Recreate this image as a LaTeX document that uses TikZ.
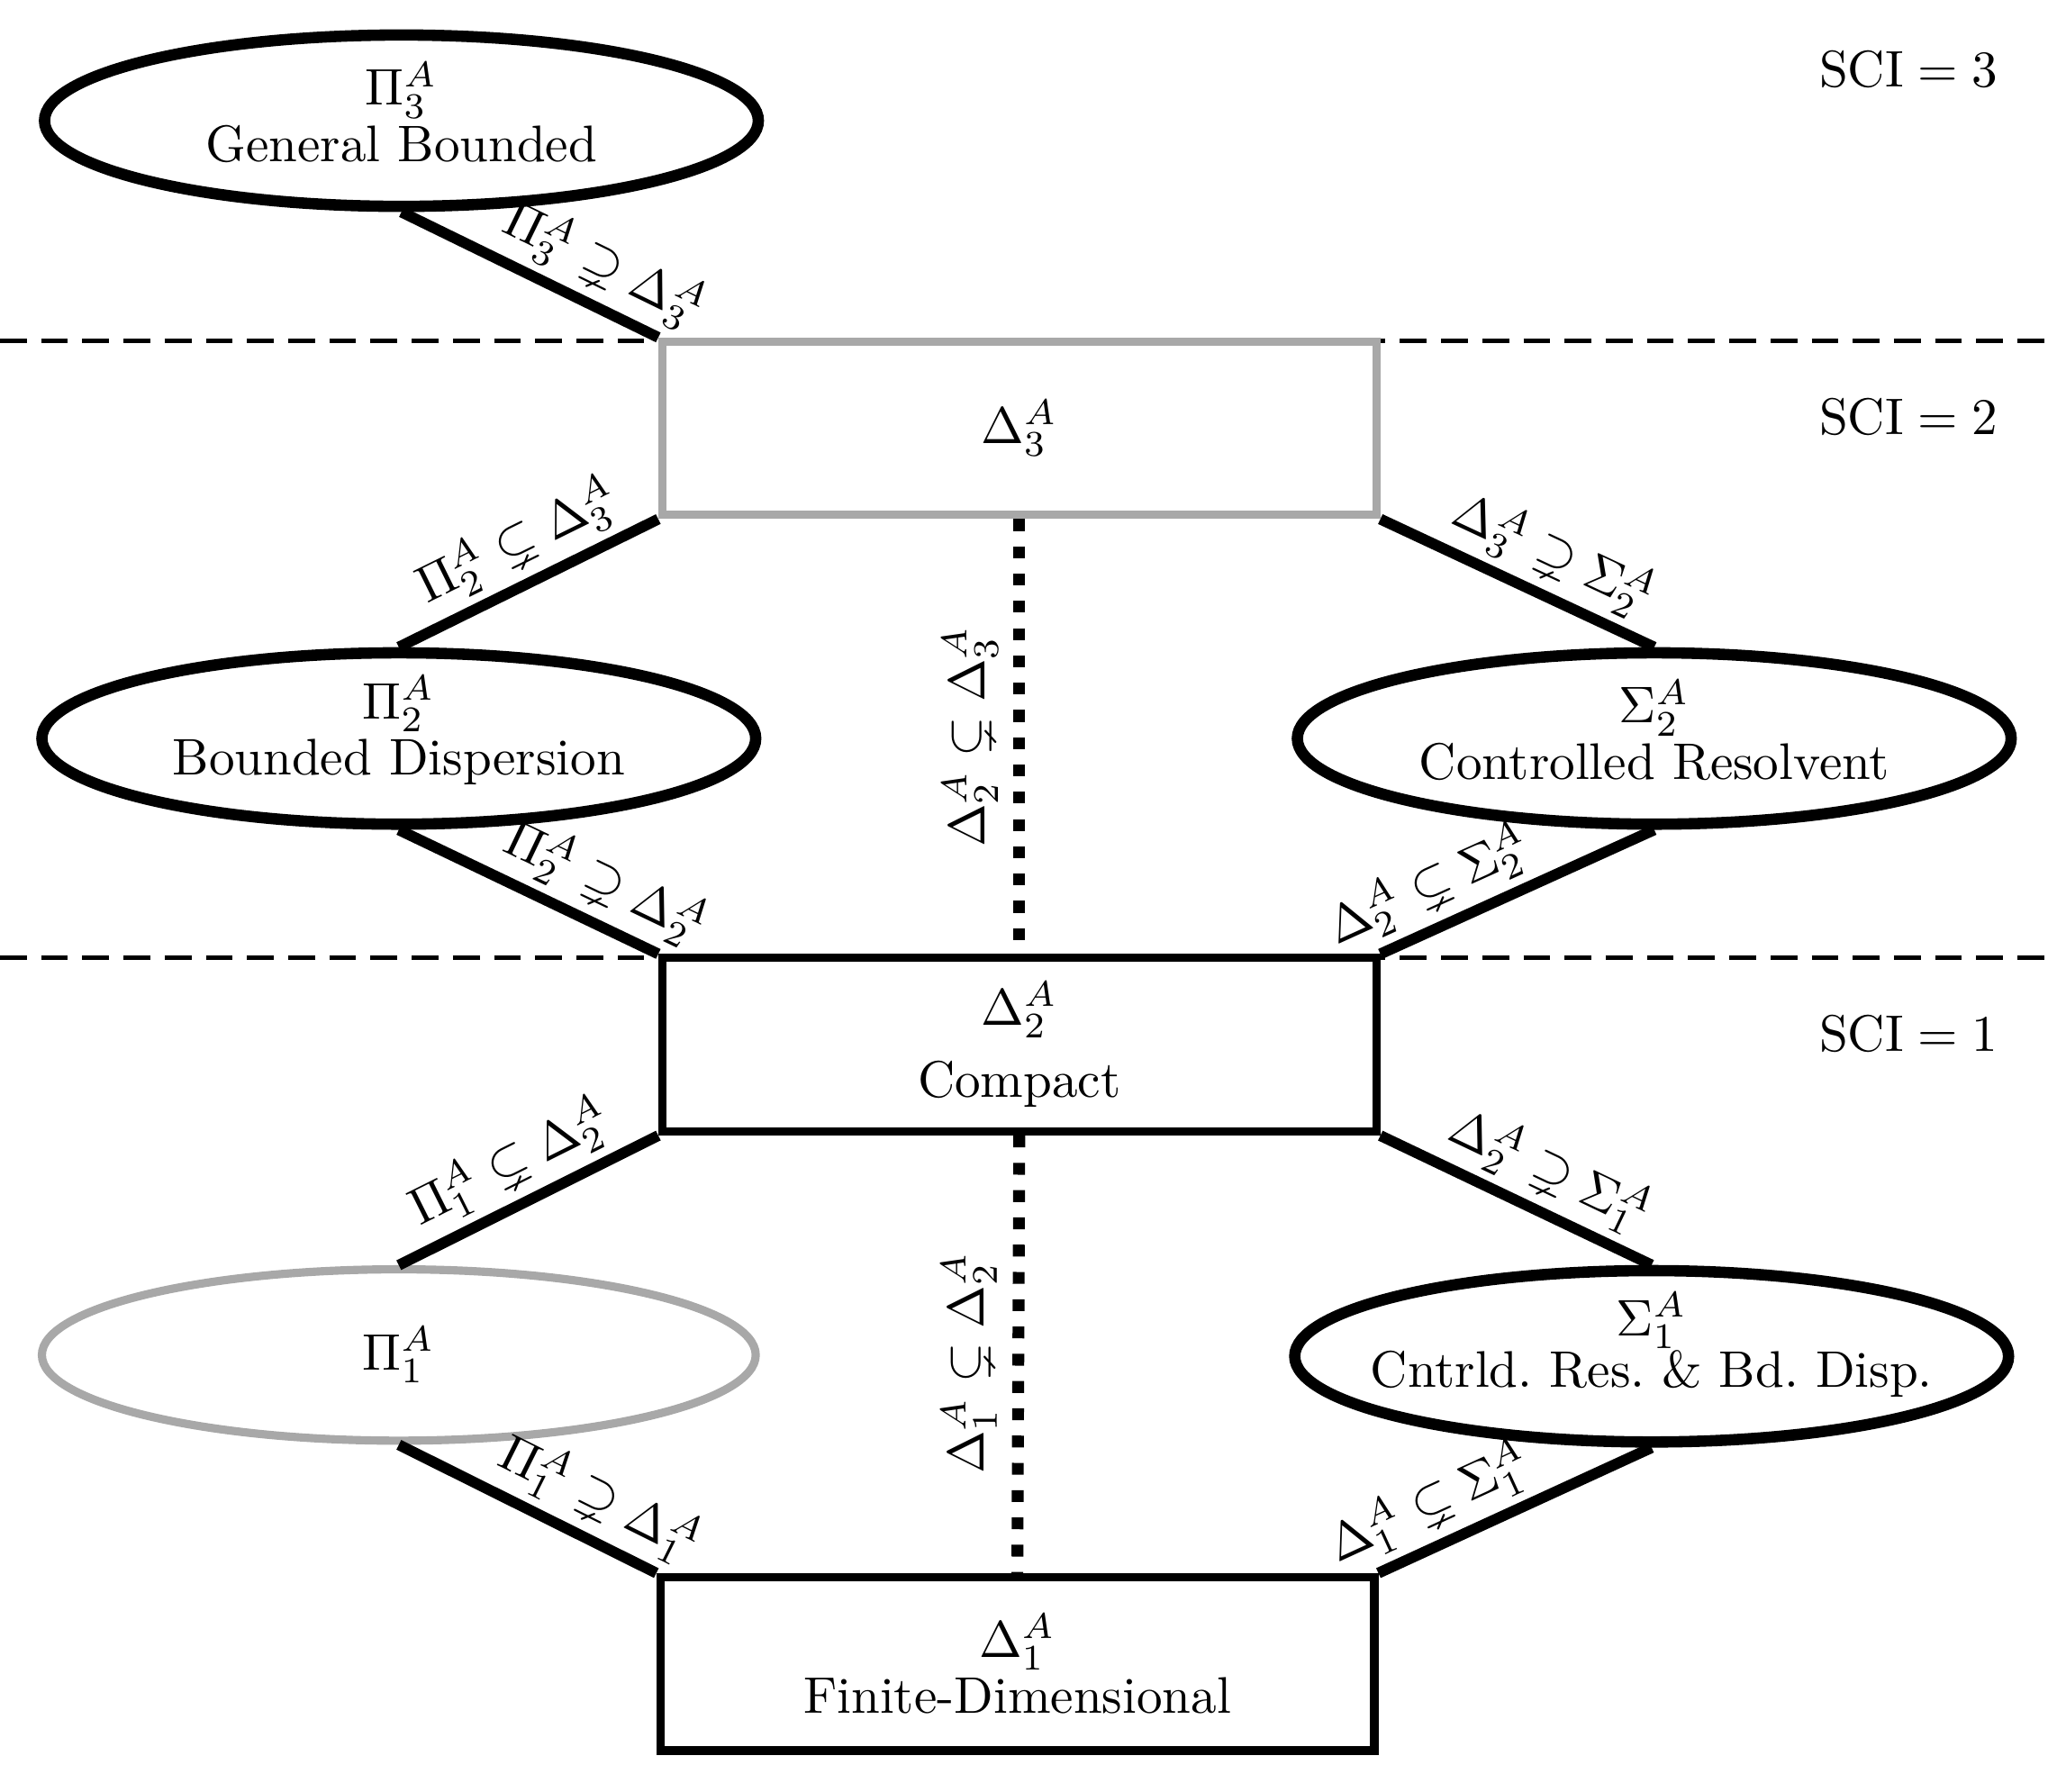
\documentclass[tikz,border=0pt]{standalone}
\usepackage{amsmath,amssymb}
\usetikzlibrary{shapes.geometric}
\definecolor{lgray}{RGB}{168,168,168}
\frenchspacing
\begin{document}
\begin{tikzpicture}[x=0.2549pt,y=-0.2549pt,
  ell/.style={ellipse, draw, line width=2.2pt, minimum width=138.7pt, minimum height=33.3pt, inner sep=0pt},
  etxt/.style={align=center, inner sep=0pt, yshift=1.6pt},
  boxn/.style={rectangle, draw, line width=1.6pt, minimum width=138.7pt, minimum height=33.7pt, inner sep=0pt, align=center},
  conn/.style={line width=2.1pt},
  sepline/.style={line width=0.9pt, dash pattern=on 5.2pt off 2.8pt},
  dotline/.style={line width=2.3pt, dash pattern=on 2.3pt off 3pt},
  lab/.style={sloped, above, inner sep=1.5pt},
  vlab/.style={rotate=90, anchor=south, inner sep=3pt},
  sci/.style={inner sep=0pt}]
\useasboundingbox (0,0) rectangle (1568,1366);
% separating dashed lines
\coordinate (s1a) at (0,260);
\coordinate (s1b) at (1568,260);
\coordinate (s2a) at (0,730);
\coordinate (s2b) at (1568,730);
\draw[sepline] (s1a) -- (s1b);
\draw[sepline] (s2a) -- (s2b);
% nodes
\node[ell, label={[etxt]center:{$\Pi_3^A$\\[-1pt]General Bounded}}] (pi3) at (306,92) {};
\node[boxn, draw=lgray] (d3) at (777,326.5) {$\Delta_3^A$};
\node[ell, label={[etxt]center:{$\Pi_2^A$\\[-1pt]Bounded Dispersion}}] (pi2) at (304,563) {};
\node[ell, label={[etxt]center:{$\Sigma_2^A$\\[-1pt]Controlled Resolvent}}] (s2) at (1261,563) {};
\node[boxn] (d2) at (777,796.5) {$\Delta_2^A$\\[2pt]Compact};
\node[ell, draw=lgray, line width=1.6pt, label={[etxt,yshift=-1.6pt]center:{$\Pi_1^A$}}] (pi1) at (304,1033) {};
\node[ell, label={[etxt,yshift=0.6pt]center:{$\Sigma_1^A$\\[-2pt]Cntrld. Res. \& Bd. Disp.}}] (s1) at (1259,1034) {};
\node[boxn] (d1) at (775.5,1268.5) {$\Delta_1^A$\\[-1pt]Finite-Dimensional};
% SCI labels
\node[sci] (sci3) at (1455,53) {$\mathrm{SCI}=3$};
\node[sci] (sci2) at (1455,318) {$\mathrm{SCI}=2$};
\node[sci] (sci1) at (1455,788) {$\mathrm{SCI}=1$};
% connectors
\draw[conn] (pi3.south) -- node[lab,pos=0.72]{$\Pi_3^A\supsetneq\Delta_3^A$} (d3.north west);
\draw[conn] (pi2.north) -- node[lab,pos=0.53]{$\Pi_2^A\subsetneq\Delta_3^A$} (d3.south west);
\draw[conn] (d3.south east) -- node[lab,pos=0.57]{$\Delta_3^A\supsetneq\Sigma_2^A$} (s2.north);
\draw[conn] (pi2.south) -- node[lab,pos=0.73]{$\Pi_2^A\supsetneq\Delta_2^A$} (d2.north west);
\draw[conn] (d2.north east) -- node[lab,pos=0.24]{$\Delta_2^A\subsetneq\Sigma_2^A$} (s2.south);
\draw[conn] (pi1.north) -- node[lab,pos=0.5]{$\Pi_1^A\subsetneq\Delta_2^A$} (d2.south west);
\draw[conn] (d2.south east) -- node[lab,pos=0.56]{$\Delta_2^A\supsetneq\Sigma_1^A$} (s1.north);
\draw[conn] (pi1.south) -- node[lab,pos=0.71]{$\Pi_1^A\supsetneq\Delta_1^A$} (d1.north west);
\draw[conn] (d1.north east) -- node[lab,pos=0.25]{$\Delta_1^A\subsetneq\Sigma_1^A$} (s1.south);
% dotted vertical connectors
\draw[dotline] (d3.south) -- node[vlab,midway]{$\Delta_2^A\subsetneq\Delta_3^A$} (d2.north);
\draw[dotline] (d2.south) -- node[vlab,pos=0.52]{$\Delta_1^A\subsetneq\Delta_2^A$} (d1.north);
\end{tikzpicture}
\end{document}
